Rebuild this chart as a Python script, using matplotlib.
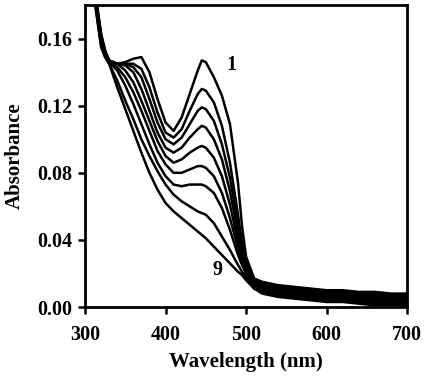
import numpy as np
import matplotlib
matplotlib.use('Agg')
import matplotlib.pyplot as plt

plt.rcParams['font.family'] = 'Liberation Serif'
plt.rcParams['font.weight'] = 'bold'

wavelength = [300, 305, 310, 315, 320, 325, 330, 340, 350, 360, 370, 380, 390, 400,
              410, 420, 430, 440, 445, 450, 460, 470, 480, 490, 495, 500, 510, 520,
              540, 560, 580, 600, 620, 640, 660, 680, 700]

# absorbance of spectra 1..9
spec1 = [0.30, 0.235, 0.205, 0.180, 0.163, 0.153, 0.147, 0.145, 0.146, 0.148, 0.149, 0.140, 0.124, 0.110,
         0.105, 0.113, 0.127, 0.141, 0.147, 0.146, 0.137, 0.126, 0.109, 0.074, 0.048, 0.030, 0.017, 0.015,
         0.013, 0.012, 0.011, 0.010, 0.010, 0.009, 0.009, 0.008, 0.008]
spec2 = [0.30, 0.232, 0.203, 0.179, 0.162, 0.152, 0.147, 0.145, 0.145, 0.145, 0.142, 0.131, 0.116, 0.104,
         0.101, 0.106, 0.117, 0.127, 0.130, 0.129, 0.122, 0.108, 0.086, 0.055, 0.038, 0.027, 0.016, 0.014,
         0.012, 0.011, 0.010, 0.009, 0.009, 0.008, 0.008, 0.007, 0.007]
spec3 = [0.30, 0.229, 0.201, 0.178, 0.161, 0.152, 0.147, 0.145, 0.145, 0.143, 0.137, 0.124, 0.110, 0.100,
         0.097, 0.101, 0.109, 0.117, 0.119, 0.118, 0.111, 0.097, 0.077, 0.049, 0.035, 0.025, 0.015, 0.013,
         0.011, 0.010, 0.009, 0.008, 0.008, 0.007, 0.007, 0.006, 0.006]
spec4 = [0.30, 0.226, 0.199, 0.177, 0.160, 0.151, 0.146, 0.145, 0.144, 0.140, 0.130, 0.117, 0.104, 0.095,
         0.092, 0.095, 0.101, 0.106, 0.108, 0.107, 0.100, 0.088, 0.069, 0.044, 0.032, 0.024, 0.014, 0.012,
         0.010, 0.009, 0.008, 0.007, 0.007, 0.006, 0.006, 0.005, 0.005]
spec5 = [0.30, 0.223, 0.197, 0.176, 0.159, 0.151, 0.146, 0.145, 0.141, 0.134, 0.123, 0.111, 0.099, 0.090,
         0.086, 0.088, 0.092, 0.095, 0.096, 0.095, 0.089, 0.078, 0.061, 0.039, 0.029, 0.022, 0.013, 0.011,
         0.010, 0.008, 0.007, 0.007, 0.006, 0.005, 0.005, 0.004, 0.004]
spec6 = [0.30, 0.220, 0.195, 0.175, 0.158, 0.150, 0.146, 0.143, 0.137, 0.128, 0.117, 0.105, 0.093, 0.085,
         0.080, 0.080, 0.082, 0.084, 0.084, 0.083, 0.078, 0.068, 0.053, 0.035, 0.027, 0.021, 0.013, 0.010,
         0.009, 0.008, 0.007, 0.006, 0.005, 0.005, 0.004, 0.003, 0.003]
spec7 = [0.30, 0.217, 0.193, 0.174, 0.157, 0.150, 0.146, 0.141, 0.132, 0.121, 0.109, 0.097, 0.086, 0.078,
         0.073, 0.072, 0.073, 0.073, 0.073, 0.072, 0.068, 0.059, 0.046, 0.031, 0.025, 0.020, 0.012, 0.010,
         0.008, 0.007, 0.006, 0.005, 0.004, 0.004, 0.003, 0.003, 0.002]
spec8 = [0.30, 0.214, 0.191, 0.173, 0.156, 0.149, 0.145, 0.135, 0.123, 0.112, 0.100, 0.090, 0.081, 0.073,
         0.067, 0.063, 0.060, 0.057, 0.056, 0.055, 0.050, 0.042, 0.034, 0.025, 0.021, 0.018, 0.011, 0.009,
         0.007, 0.006, 0.005, 0.004, 0.004, 0.003, 0.002, 0.002, 0.001]
spec9 = [0.30, 0.211, 0.189, 0.172, 0.155, 0.149, 0.145, 0.131, 0.118, 0.105, 0.092, 0.080, 0.070, 0.062,
         0.057, 0.053, 0.049, 0.045, 0.043, 0.041, 0.036, 0.031, 0.026, 0.021, 0.019, 0.016, 0.011, 0.008,
         0.006, 0.005, 0.004, 0.003, 0.003, 0.002, 0.001, 0.001, 0.001]

spectra = [spec1, spec2, spec3, spec4, spec5, spec6, spec7, spec8, spec9]

fig = plt.figure(figsize=(4.25, 3.76), dpi=100)
ax = fig.add_axes([0.2, 0.1835, 0.758, 0.803])

for s in spectra:
    ax.plot(wavelength, s, color='black', lw=1.8, solid_joinstyle='round')

ax.text(482, 0.1445, '1', fontsize=14.5, fontweight='bold', ha='center', va='center')
ax.text(465, 0.022, '9', fontsize=14.5, fontweight='bold', ha='center', va='center')

ax.set_xlim(300, 700)
ax.set_ylim(0, 0.18)
ax.set_xticks([300, 400, 500, 600, 700])
ax.set_yticks([0.00, 0.04, 0.08, 0.12, 0.16])
ax.set_yticklabels(['0.00', '0.04', '0.08', '0.12', '0.16'])
ax.tick_params(direction='out', length=5, width=1.8, labelsize=14.5)
ax.tick_params(axis='x', pad=8)
ax.tick_params(axis='y', pad=4)
for sp in ax.spines.values():
    sp.set_linewidth(2)

ax.set_xlabel('Wavelength (nm)', fontsize=15, fontweight='bold', labelpad=5)
ax.set_ylabel('Absorbance', fontsize=15, fontweight='bold', labelpad=9)

fig.savefig('out.png', dpi=100)
